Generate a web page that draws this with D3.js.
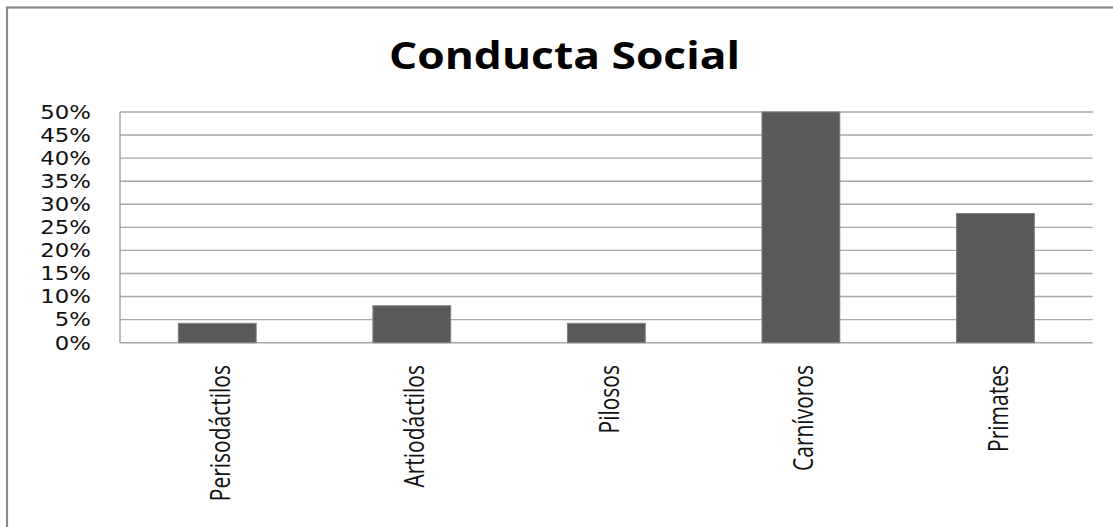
<!DOCTYPE html>
<html>
<head>
<meta charset="utf-8">
<script src="https://cdn.jsdelivr.net/npm/d3@7"></script>
<style>
  html, body { margin: 0; padding: 0; background: #fff; }
  svg { display: block; }
</style>
</head>
<body>
<svg id="chart" width="1113" height="527"></svg>
<script>
// Conducta Social — share of each order
const categories = ["Perisodáctilos", "Artiodáctilos", "Pilosos", "Carnívoros", "Primates"];
const values = [0.042, 0.08, 0.042, 0.50, 0.28];
const tickValues = [0, 0.05, 0.10, 0.15, 0.20, 0.25, 0.30, 0.35, 0.40, 0.45, 0.50];
const chartTitle = "Conducta Social";

const svg = d3.select("#chart");

// outer chart frame (runs off the right and bottom edges)
svg.append("rect")
  .attr("x", 7).attr("y", 7.5)
  .attr("width", 1130).attr("height", 540)
  .attr("fill", "none")
  .attr("stroke", "#888")
  .attr("stroke-width", 2.2);

const plot = { left: 120, right: 1092.7, top: 112, bottom: 342.7 };

const x = d3.scaleBand()
  .domain(categories)
  .range([plot.left, plot.right])
  .paddingInner(0.6)
  .paddingOuter(0.3);

const y = d3.scaleLinear()
  .domain([0, 0.5])
  .range([plot.bottom, plot.top]);

// horizontal gridlines
svg.append("g")
  .selectAll("line")
  .data(tickValues)
  .join("line")
  .attr("x1", plot.left).attr("x2", plot.right)
  .attr("y1", d => y(d)).attr("y2", d => y(d))
  .attr("stroke", "#a8a8a8")
  .attr("stroke-width", 1.4);

// value axis line
svg.append("line")
  .attr("x1", plot.left).attr("x2", plot.left)
  .attr("y1", plot.top).attr("y2", plot.bottom)
  .attr("stroke", "#a0a0a0")
  .attr("stroke-width", 1.4);

// bars
svg.append("g")
  .selectAll("rect")
  .data(categories.map((c, i) => ({ c, v: values[i] })))
  .join("rect")
  .attr("x", d => x(d.c))
  .attr("width", x.bandwidth())
  .attr("y", d => y(d.v))
  .attr("height", d => y(0) - y(d.v))
  .attr("fill", "#595959")
  .attr("stroke", "#7f7f7f")
  .attr("stroke-width", 1);

// y tick labels
const fmt = d3.format(".0%");
svg.append("g")
  .selectAll("text")
  .data(tickValues)
  .join("text")
  .attr("transform", d => `translate(91, ${y(d)}) scale(1.2, 1)`)
  .attr("text-anchor", "end")
  .attr("dy", "0.36em")
  .attr("font-family", "'DejaVu Sans', Verdana, sans-serif")
  .attr("font-size", 19)
  .attr("fill", "#111")
  .text(d => fmt(d));

// category labels, rotated
svg.append("g")
  .selectAll("text")
  .data(categories)
  .join("text")
  .attr("transform", d => `translate(${x(d) + x.bandwidth() / 2 + 12.5}, 365) rotate(-90) scale(1, 1.3)`)
  .attr("text-anchor", "end")
  .attr("font-family", "'Open Sans', sans-serif")
  .attr("font-size", 21)
  .attr("fill", "#111")
  .text(d => d);

// title
svg.append("text")
  .attr("x", 564.5)
  .attr("y", 69.3)
  .attr("text-anchor", "middle")
  .attr("font-family", "'Open Sans', sans-serif")
  .attr("font-weight", "bold")
  .attr("font-size", 38)
  .attr("textLength", 351)
  .attr("lengthAdjust", "spacingAndGlyphs")
  .attr("fill", "#000")
  .text(chartTitle);
</script>
</body>
</html>
